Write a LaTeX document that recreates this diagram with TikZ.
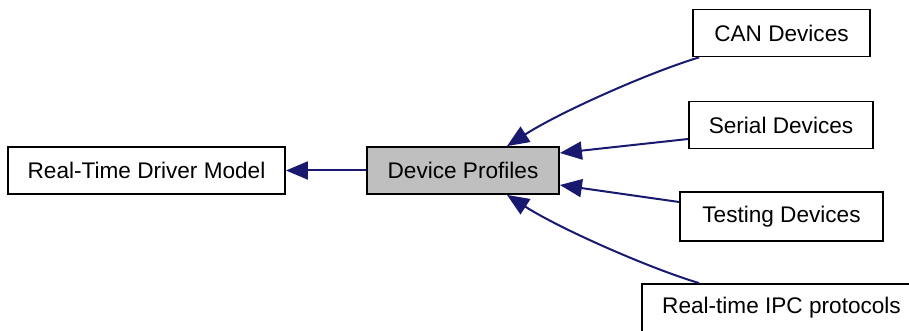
\documentclass[tikz,border=0pt]{standalone}
\usepackage{fontspec}
\setmainfont{Liberation Sans}
\usetikzlibrary{arrows.meta,calc}
\definecolor{edgeblue}{HTML}{191970}
\definecolor{boxgray}{HTML}{BFBFBF}
\begin{document}
\begin{tikzpicture}[x=1pt,y=-1pt,
  box/.style={draw=black,line width=1.8pt,fill=white,rectangle,inner sep=0pt,
    minimum height=47pt,font=\fontsize{22.6}{26}\selectfont},
  conn/.style={draw=edgeblue,line width=2pt,-{Triangle[length=22pt,width=18pt]}}]
\clip (0,0) rectangle (909,331);
\useasboundingbox (0,0) rectangle (909,331);
\node[box,minimum width=277pt] (rtdm) at (146.5,170.5) {Real-Time Driver Model};
\node[box,fill=boxgray,minimum width=192pt] (dp) at (463,170.5) {Device Profiles};
\node[box,minimum width=177pt] (can) at (781.5,33) {CAN Devices};
\node[box,minimum width=184pt] (serial) at (781,125) {Serial Devices};
\node[box,minimum width=203pt,minimum height=49pt] (testing) at (781.5,216.5) {Testing Devices};
\node[box,minimum width=279pt,minimum height=48pt] (ipc) at (781.5,308) {Real-time IPC protocols};
\draw[conn] (dp.west) -- (rtdm.east);
\draw[conn] ($(can.south west)+(7,0)$) .. controls +(-50,15) and +(53,-34) .. ($(dp.north)+(44,0)$);
\draw[conn] ($(serial.west)+(0,14)$) -- ($(dp.east)+(0,-17.5)$);
\draw[conn] ($(testing.west)+(0,-14.5)$) -- ($(dp.east)+(0,14.5)$);
\draw[conn] ($(ipc.north west)+(58,0)$) .. controls +(-50,-15) and +(53,34) .. ($(dp.south)+(44,0)$);
\end{tikzpicture}
\end{document}
